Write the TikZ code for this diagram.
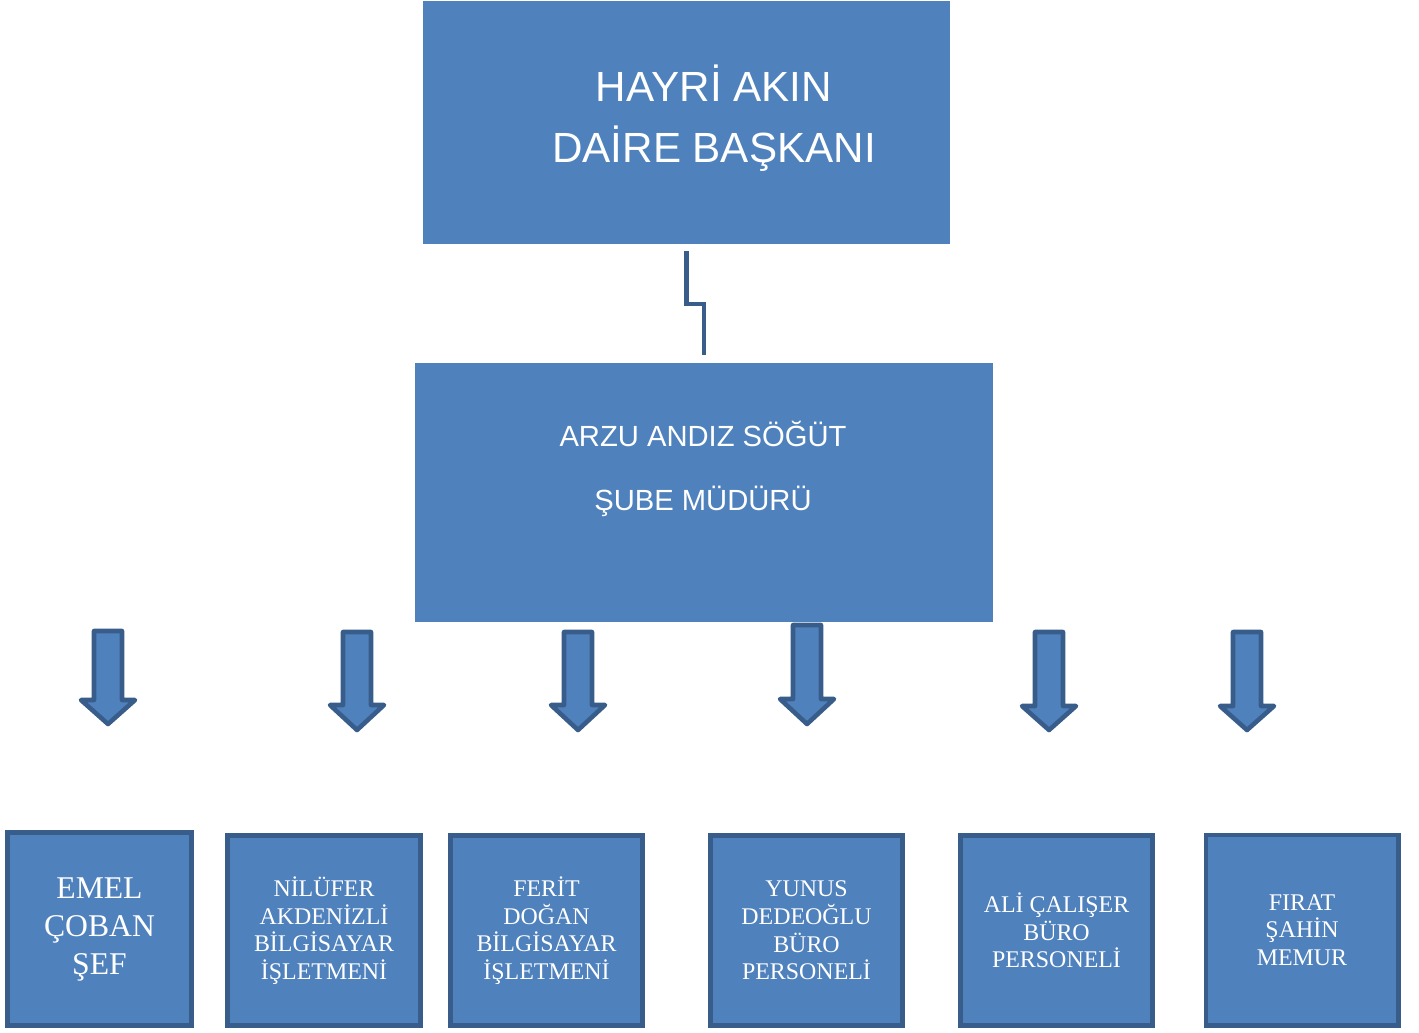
\documentclass[tikz,border=0pt]{standalone}
\usepackage{fontspec}
\setmainfont{Liberation Serif}
\newfontfamily\boxsans{Liberation Sans}
\usepackage{tikz}
\usepackage{xcolor}
\definecolor{boxblue}{HTML}{4F81BD}
\definecolor{lineblue}{HTML}{385D8A}
\tikzset{chief/.style={fill=boxblue,draw=none,inner sep=0pt},
 chieftext/.style={text=white,align=center,inner sep=0pt},
 staff/.style={fill=boxblue,draw=lineblue,line width=1.4pt,text=white,align=center,
   minimum width=1.92cm,minimum height=1.90cm,inner sep=0pt,
   font=\fontsize{6.8}{7.85}\selectfont},
 link/.style={draw=lineblue,line width=1.15pt},
 blockarrow/.style={fill=boxblue,draw=lineblue,line width=1.3pt,line join=round},
 }

\begin{document}
\begin{tikzpicture}[x=0.01cm,y=-0.01cm]
        \useasboundingbox (0,0) rectangle (1419,1032);
        % upper boxes
        \node[chief,minimum width=5.27cm,minimum height=2.43cm] (top) at (686.5,122.5) {};
        \node[chieftext,font=\boxsans\fontsize{12}{17.4}\selectfont] (toptext) at (714,118)
            {HAYRİ AKIN\\DAİRE BAŞKANI};
        \node[chief,minimum width=5.78cm,minimum height=2.59cm] (mid) at (704,492.5) {};
        \node[chieftext,font=\boxsans\fontsize{8.3}{18.2}\selectfont] (midtext) at (703,469)
            {ARZU ANDIZ SÖĞÜT\\ŞUBE MÜDÜRÜ};
        \draw[link] ([yshift=-0.06cm]top.south) -- ++(0,53) -| ([yshift=0.07cm]mid.north);
        % block arrows
        \foreach \x/\t/\b/\e in {108/631/700/724, 357/632/705/730, 578/632/705/730,
                                 807/625/699/724, 1049/632/706/730, 1247/632/706/730}
            \draw[blockarrow] (\x-14,\t) -- (\x+14,\t) -- (\x+14,\b) -- (\x+27,\b)
                -- (\x,\e) -- (\x-27,\b) -- (\x-14,\b) -- cycle;
        % staff boxes
        \node[staff,minimum width=1.83cm,minimum height=1.93cm,
              font=\fontsize{9}{10.8}\selectfont] (emel) at (99.5,929) {EMEL\\ÇOBAN\\ŞEF};
        \node[staff] (nilufer) at (324,930.5) {NİLÜFER\\AKDENİZLİ\\BİLGİSAYAR\\İŞLETMENİ};
        \node[staff] (ferit) at (546.5,930.5) {FERİT\\DOĞAN\\BİLGİSAYAR\\İŞLETMENİ};
        \node[staff] (yunus) at (806.5,930.5) {YUNUS\\DEDEOĞLU\\BÜRO\\PERSONELİ};
        \node[staff] (ali) at (1056.5,930.5) {ALİ ÇALIŞER\\BÜRO\\PERSONELİ};
        \node[staff] (firat) at (1302,930) {FIRAT\\ŞAHİN\hspace*{0.9em}\\MEMUR};
    \end{tikzpicture}
\end{document}
